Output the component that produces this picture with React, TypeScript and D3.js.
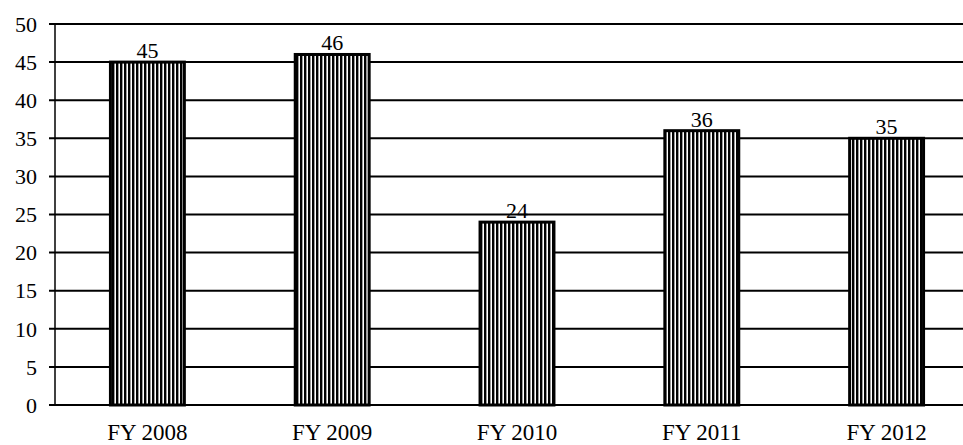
import React from 'react';
import * as d3 from 'd3';

const categories = ['FY 2008', 'FY 2009', 'FY 2010', 'FY 2011', 'FY 2012'];
const values = [45, 46, 24, 36, 35];
const yTicks = [0, 5, 10, 15, 20, 25, 30, 35, 40, 45, 50];

const W = 963;
const H = 445;
const margin = { left: 55, right: -16, top: 24, bottom: 40 };

export default function App() {
  const x = d3
    .scaleBand<string>()
    .domain(categories)
    .range([margin.left, W - margin.right])
    .paddingInner(0.6)
    .paddingOuter(0.3);

  const y = d3
    .scaleLinear()
    .domain([0, 50])
    .range([H - margin.bottom, margin.top]);

  const font = '"Liberation Serif", "Times New Roman", serif';

  return (
    <svg
      width={W}
      height={H}
      style={{ position: 'absolute', left: 0, top: 0, background: '#fff' }}
      fontFamily={font}
    >
      <defs>
        <pattern id="stripes" width={4} height={10} patternUnits="userSpaceOnUse">
          <rect width={4} height={10} fill="#fff" />
          <rect x={0} width={2.4} height={10} fill="#000" />
        </pattern>
      </defs>

      {/* grid lines */}
      {yTicks.map(t => (
        <line
          key={'g' + t}
          x1={margin.left - 6}
          x2={W}
          y1={y(t)}
          y2={y(t)}
          stroke="#000"
          strokeWidth={2}
        />
      ))}

      {/* y axis */}
      <line x1={margin.left} x2={margin.left} y1={y(50)} y2={y(0)} stroke="#000" strokeWidth={1.5} />

      {yTicks.map(t => (
        <text
          key={'t' + t}
          x={margin.left - 18}
          y={y(t)}
          dy="0.35em"
          textAnchor="end"
          fontSize={22}
        >
          {t}
        </text>
      ))}

      {/* bars */}
      {categories.map((c, i) => (
        <g key={c}>
          <rect
            x={x(c)!}
            y={y(values[i])}
            width={x.bandwidth()}
            height={y(0) - y(values[i])}
            fill="url(#stripes)"
            stroke="#000"
            strokeWidth={3}
          />
          <text
            x={x(c)! + x.bandwidth() / 2}
            y={y(values[i]) - 4}
            textAnchor="middle"
            fontSize={22}
          >
            {values[i]}
          </text>
          <text
            x={x(c)! + x.bandwidth() / 2}
            y={H - 5}
            textAnchor="middle"
            fontSize={23}
          >
            {c}
          </text>
        </g>
      ))}
    </svg>
  );
}
